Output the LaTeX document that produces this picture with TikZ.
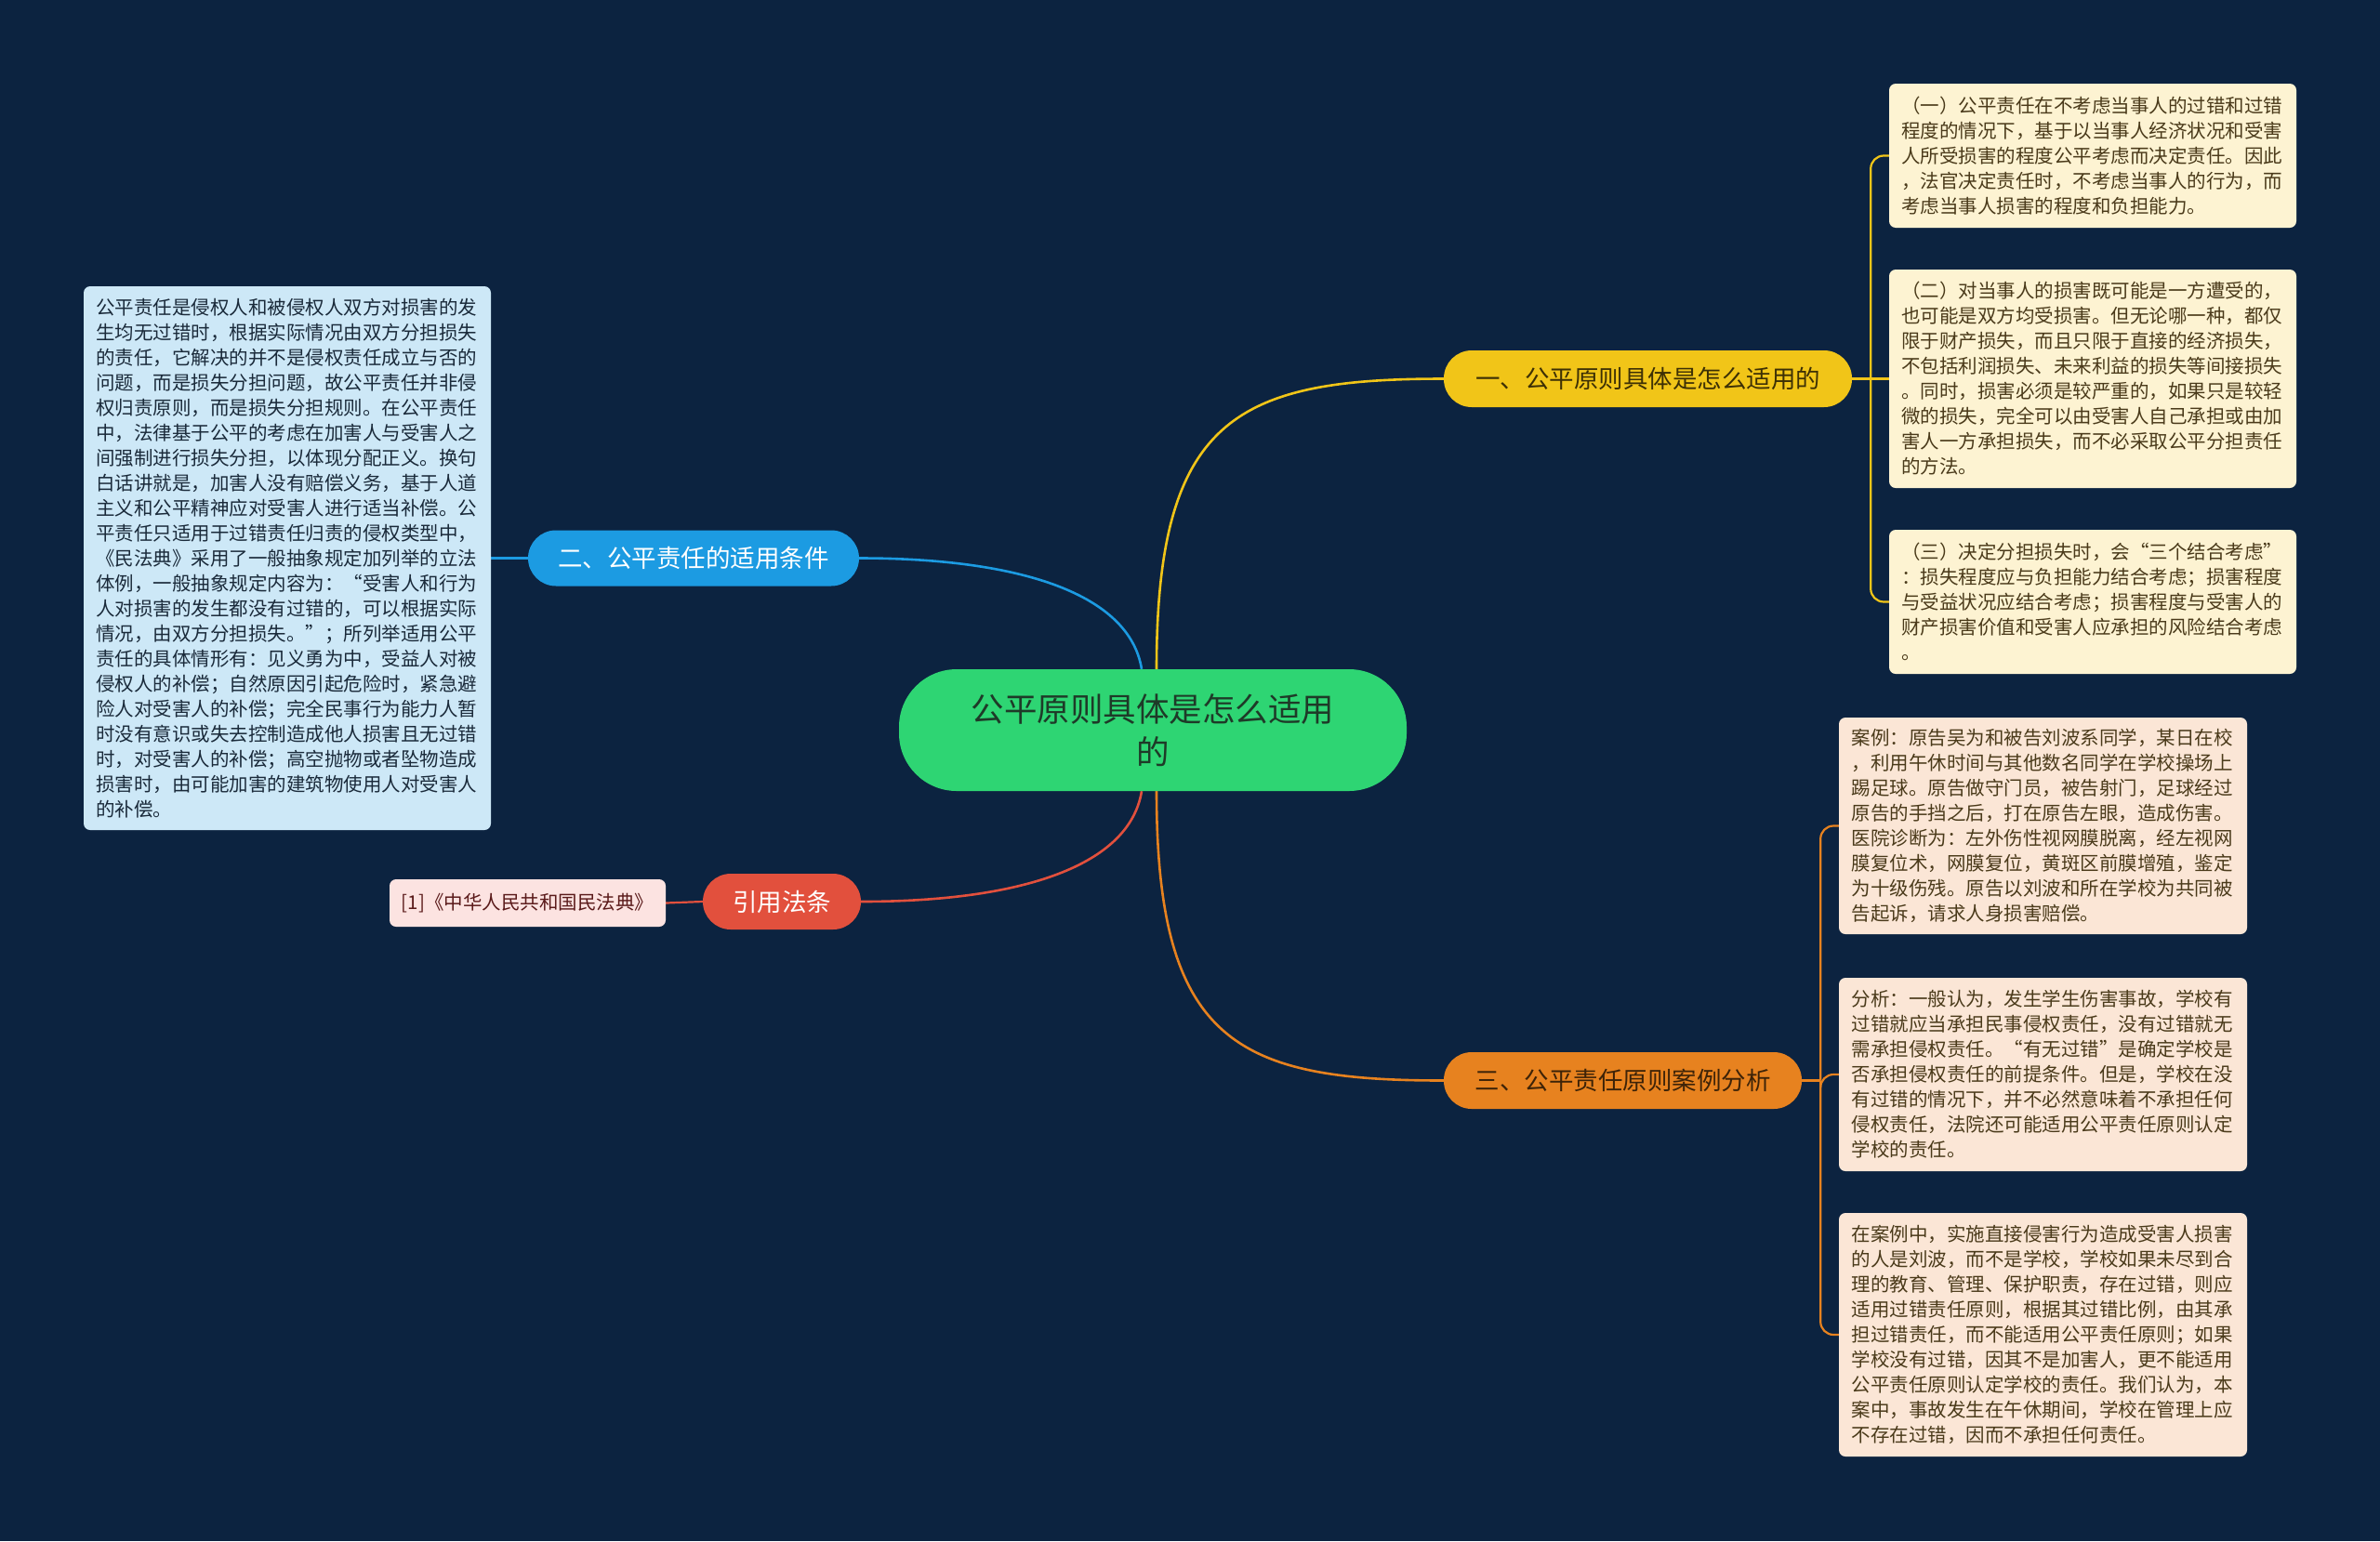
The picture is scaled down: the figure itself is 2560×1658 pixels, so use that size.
\documentclass[tikz,border=0pt]{standalone}
\usepackage{fontspec}
\setmainfont{Noto Sans CJK SC}
\pgfdeclarelayer{bglayer}
\pgfdeclarelayer{edgelayer}
\pgfsetlayers{bglayer,edgelayer,main}
\definecolor{bgc}{HTML}{0C2340}
\definecolor{cfill}{HTML}{2ED573}
\definecolor{ctext}{HTML}{1E3A28}
\definecolor{yel}{HTML}{F1C518}
\definecolor{yeltext}{HTML}{3D3005}
\definecolor{yelleaf}{HTML}{FDF3D2}
\definecolor{blu}{HTML}{1C9BE2}
\definecolor{bluleaf}{HTML}{CDE8F7}
\definecolor{blutext}{HTML}{1A2A3A}
\definecolor{redc}{HTML}{E2503D}
\definecolor{redleaf}{HTML}{FCE3E1}
\definecolor{redtext}{HTML}{5A1A1A}
\definecolor{org}{HTML}{E7821F}
\definecolor{orgtext}{HTML}{3D2308}
\definecolor{orgleaf}{HTML}{FBE6D6}
\definecolor{leaftext}{HTML}{4A3A1A}
\begin{document}
\begin{tikzpicture}[x=1pt,y=-1pt,
  leafbox/.style={rectangle, rounded corners=7pt, inner sep=0pt, align=left,
    text width=412pt, font=\fontsize{20.5}{27}\selectfont},
  branchbox/.style={rectangle, rounded corners=30pt, inner sep=0pt,
    font=\fontsize{26.5}{32}\selectfont},
  conn/.style={line width=2.6pt},
  bracket/.style={line width=2.2pt, rounded corners=14pt}
]
\begin{pgfonlayer}{bglayer}
\fill[bgc] (0,0) rectangle (2560,1658);
\end{pgfonlayer}
\useasboundingbox (0,0) rectangle (2560,1658);

% center
\node[rectangle, rounded corners=62pt, fill=cfill, text=ctext, minimum width=546pt, minimum height=131pt,
  inner sep=0pt, align=center, font=\fontsize{35.5}{46}\selectfont] (c) at (1240,785.5)
  {公平原则具体是怎么适用\\的};

% branches
\node[branchbox, fill=yel, text=yeltext, minimum width=439pt, minimum height=61pt] (b1) at (1772.5,407.5) {一、公平原则具体是怎么适用的};
\node[branchbox, fill=blu, text=white, minimum width=356pt, minimum height=60pt] (b2) at (746,600.5) {二、公平责任的适用条件};
\node[branchbox, fill=redc, text=white, minimum width=170pt, minimum height=60pt] (b3) at (841,970) {引用法条};
\node[branchbox, fill=org, text=orgtext, minimum width=385pt, minimum height=61pt] (b4) at (1745.5,1162.5) {三、公平责任原则案例分析};

% yellow leaves
\node[leafbox, fill=yelleaf, text=leaftext, minimum width=438pt, minimum height=155pt] (l1) at (2251,167.5)
{（一）公平责任在不考虑当事人的过错和过错\\程度的情况下，基于以当事人经济状况和受害\\人所受损害的程度公平考虑而决定责任。因此\\，法官决定责任时，不考虑当事人的行为，而\\考虑当事人损害的程度和负担能力。};
\node[leafbox, fill=yelleaf, text=leaftext, minimum width=438pt, minimum height=235pt] (l2) at (2251,407.5)
{（二）对当事人的损害既可能是一方遭受的，\\也可能是双方均受损害。但无论哪一种，都仅\\限于财产损失，而且只限于直接的经济损失，\\不包括利润损失、未来利益的损失等间接损失\\。同时，损害必须是较严重的，如果只是较轻\\微的损失，完全可以由受害人自己承担或由加\\害人一方承担损失，而不必采取公平分担责任\\的方法。};
\node[leafbox, fill=yelleaf, text=leaftext, minimum width=438pt, minimum height=155pt] (l3) at (2251,647.5)
{（三）决定分担损失时，会“三个结合考虑”\\：损失程度应与负担能力结合考虑；损害程度\\与受益状况应结合考虑；损害程度与受害人的\\财产损害价值和受害人应承担的风险结合考虑\\。};

% orange leaves
\node[leafbox, fill=orgleaf, text=leaftext, minimum width=439pt, minimum height=233pt] (o1) at (2197.5,888.5)
{案例：原告吴为和被告刘波系同学，某日在校\\，利用午休时间与其他数名同学在学校操场上\\踢足球。原告做守门员，被告射门，足球经过\\原告的手挡之后，打在原告左眼，造成伤害。\\医院诊断为：左外伤性视网膜脱离，经左视网\\膜复位术，网膜复位，黄斑区前膜增殖，鉴定\\为十级伤残。原告以刘波和所在学校为共同被\\告起诉，请求人身损害赔偿。};
\node[leafbox, fill=orgleaf, text=leaftext, minimum width=439pt, minimum height=208pt] (o2) at (2197.5,1156)
{分析：一般认为，发生学生伤害事故，学校有\\过错就应当承担民事侵权责任，没有过错就无\\需承担侵权责任。“有无过错”是确定学校是\\否承担侵权责任的前提条件。但是，学校在没\\有过错的情况下，并不必然意味着不承担任何\\侵权责任，法院还可能适用公平责任原则认定\\学校的责任。};
\node[leafbox, fill=orgleaf, text=leaftext, minimum width=439pt, minimum height=262pt] (o3) at (2197.5,1436)
{在案例中，实施直接侵害行为造成受害人损害\\的人是刘波，而不是学校，学校如果未尽到合\\理的教育、管理、保护职责，存在过错，则应\\适用过错责任原则，根据其过错比例，由其承\\担过错责任，而不能适用公平责任原则；如果\\学校没有过错，因其不是加害人，更不能适用\\公平责任原则认定学校的责任。我们认为，本\\案中，事故发生在午休期间，学校在管理上应\\不存在过错，因而不承担任何责任。};

% blue leaf
\node[leafbox, fill=bluleaf, text=blutext, minimum width=438pt, minimum height=585pt] (bl) at (309,600.5)
{公平责任是侵权人和被侵权人双方对损害的发\\生均无过错时，根据实际情况由双方分担损失\\的责任，它解决的并不是侵权责任成立与否的\\问题，而是损失分担问题，故公平责任并非侵\\权归责原则，而是损失分担规则。在公平责任\\中，法律基于公平的考虑在加害人与受害人之\\间强制进行损失分担，以体现分配正义。换句\\白话讲就是，加害人没有赔偿义务，基于人道\\主义和公平精神应对受害人进行适当补偿。公\\平责任只适用于过错责任归责的侵权类型中，\\《民法典》采用了一般抽象规定加列举的立法\\体例，一般抽象规定内容为：“受害人和行为\\人对损害的发生都没有过错的，可以根据实际\\情况，由双方分担损失。”；所列举适用公平\\责任的具体情形有：见义勇为中，受益人对被\\侵权人的补偿；自然原因引起危险时，紧急避\\险人对受害人的补偿；完全民事行为能力人暂\\时没有意识或失去控制造成他人损害且无过错\\时，对受害人的补偿；高空抛物或者坠物造成\\损害时，由可能加害的建筑物使用人对受害人\\的补偿。};

% red leaf
\node[rectangle, rounded corners=7pt, inner sep=0pt, fill=redleaf, text=redtext, minimum width=297pt, minimum height=51pt,
  font=\fontsize{20.5}{27}\selectfont] (rl) at (567.5,971.5) {[1]《中华人民共和国民法典》};

% connectors
\coordinate (j1) at ([xshift=20pt]b1.east);
\coordinate (j4) at ([xshift=20pt]b4.east);
\begin{pgfonlayer}{edgelayer}
\draw[conn, yel] ([xshift=4pt]c.north) .. controls (1244,450) and (1330,407.5) .. (b1.west);
\draw[conn, blu] ([xshift=-12pt]c.north) .. controls (1215,640) and (1100,600.5) .. (b2.east);
\draw[conn, redc] ([xshift=-12pt]c.south) .. controls (1215,931) and (1100,970) .. (b3.east);
\draw[conn, org] ([xshift=4pt]c.south) .. controls (1244,1121) and (1330,1162.5) .. (b4.west);

\draw[bracket, yel] (b1.east) -- (j1);
\draw[bracket, yel] (j1) |- (l1.west);
\draw[bracket, yel] (j1) -- (l2.west);
\draw[bracket, yel] (j1) |- (l3.west);

\draw[bracket, org] (b4.east) -- (j4);
\draw[bracket, org] (j4) |- (o1.west);
\draw[bracket, org] (j4) |- (o2.west);
\draw[bracket, org] (j4) |- (o3.west);

\draw[bracket, blu] (b2.west) -- (bl.east);
\draw[bracket, redc] (b3.west) -- (rl.east);
\end{pgfonlayer}
\end{tikzpicture}
\end{document}
